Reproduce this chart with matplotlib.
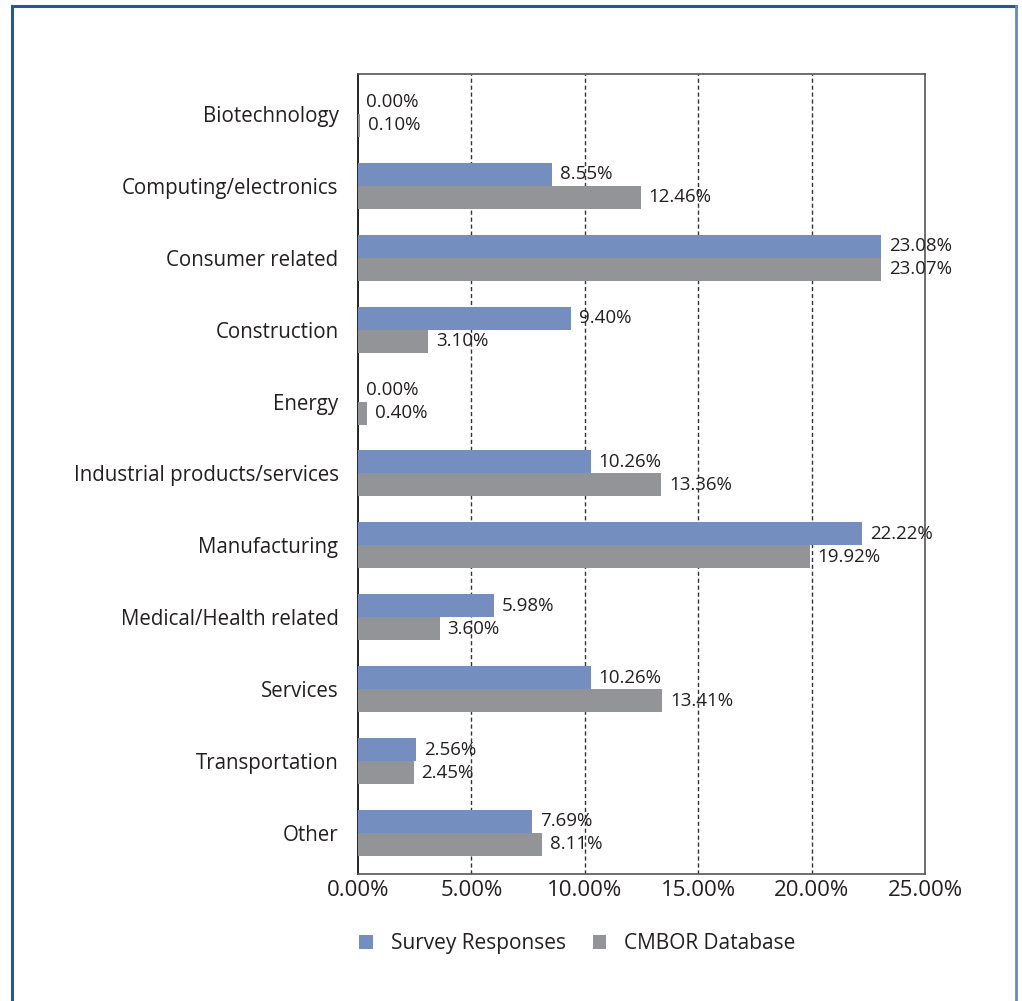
import matplotlib.pyplot as plt
import numpy as np
from matplotlib.lines import Line2D

categories = ['Biotechnology', 'Computing/electronics', 'Consumer related',
              'Construction', 'Energy', 'Industrial products/services',
              'Manufacturing', 'Medical/Health related', 'Services',
              'Transportation', 'Other']
survey = [0.00, 8.55, 23.08, 9.40, 0.00, 10.26, 22.22, 5.98, 10.26, 2.56, 7.69]
cmbor = [0.10, 12.46, 23.07, 3.10, 0.40, 13.36, 19.92, 3.60, 13.41, 2.45, 8.11]
xticks = [0, 5, 10, 15, 20, 25]

plt.rcParams['font.family'] = ['Open Sans', 'DejaVu Sans']
text_col = '#231f20'
blue = '#758ec0'
gray = '#939497'

fig = plt.figure(figsize=(10.22, 10.01), dpi=100)
ax = fig.add_axes([0.3503, 0.1269, 0.5548, 0.7991])

y = np.arange(len(categories))
h = 0.32
ax.barh(y - h / 2, survey, height=h, color=blue, label='Survey Responses', zorder=3)
ax.barh(y + h / 2, cmbor, height=h, color=gray, label='CMBOR Database', zorder=3)

for i in range(len(categories)):
    ax.text(survey[i] + 0.35, y[i] - h / 2, f'{survey[i]:.2f}%', va='center',
            ha='left', fontsize=13.5, color=text_col)
    ax.text(cmbor[i] + 0.35, y[i] + h / 2, f'{cmbor[i]:.2f}%', va='center',
            ha='left', fontsize=13.5, color=text_col)

ax.set_ylim(10.57, -0.555)
ax.set_xlim(0, 25)
ax.set_yticks(y)
ax.set_yticklabels(categories, fontsize=14.8, color=text_col)
ax.set_xticks(xticks)
ax.set_xticklabels([f'{v:.2f}%' for v in xticks], fontsize=16, color=text_col)
ax.tick_params(axis='both', length=0)
ax.tick_params(axis='y', pad=14)
ax.tick_params(axis='x', pad=4)

for v in xticks[1:-1]:
    ax.axvline(v, color='#333333', linestyle=(0, (3, 2)), linewidth=1, zorder=1)

for side in ['top', 'right', 'bottom']:
    ax.spines[side].set_color('#555555')
    ax.spines[side].set_linewidth(1.2)
ax.spines['left'].set_color('black')
ax.spines['left'].set_linewidth(1.2)

leg = fig.legend(loc='center', bbox_to_anchor=(0.565, 0.057), ncol=2, frameon=False,
                 fontsize=15, handlelength=0.65, handleheight=0.65,
                 handletextpad=0.85, columnspacing=1.3)
for t in leg.get_texts():
    t.set_color(text_col)

# blue border round the figure (no bottom edge)
fig.add_artist(Line2D([0.0113, 0.0113], [0, 0.9945], color='#1f5a9e', linewidth=2.2,
                      transform=fig.transFigure))
fig.add_artist(Line2D([0.0113, 0.9937], [0.9945, 0.9945], color='#1f5a9e', linewidth=2.2,
                      transform=fig.transFigure))
fig.add_artist(Line2D([0.9937, 0.9937], [0, 0.9945], color='#5b8cc4', linewidth=2,
                      transform=fig.transFigure))

fig.savefig('out.png', dpi=100)
